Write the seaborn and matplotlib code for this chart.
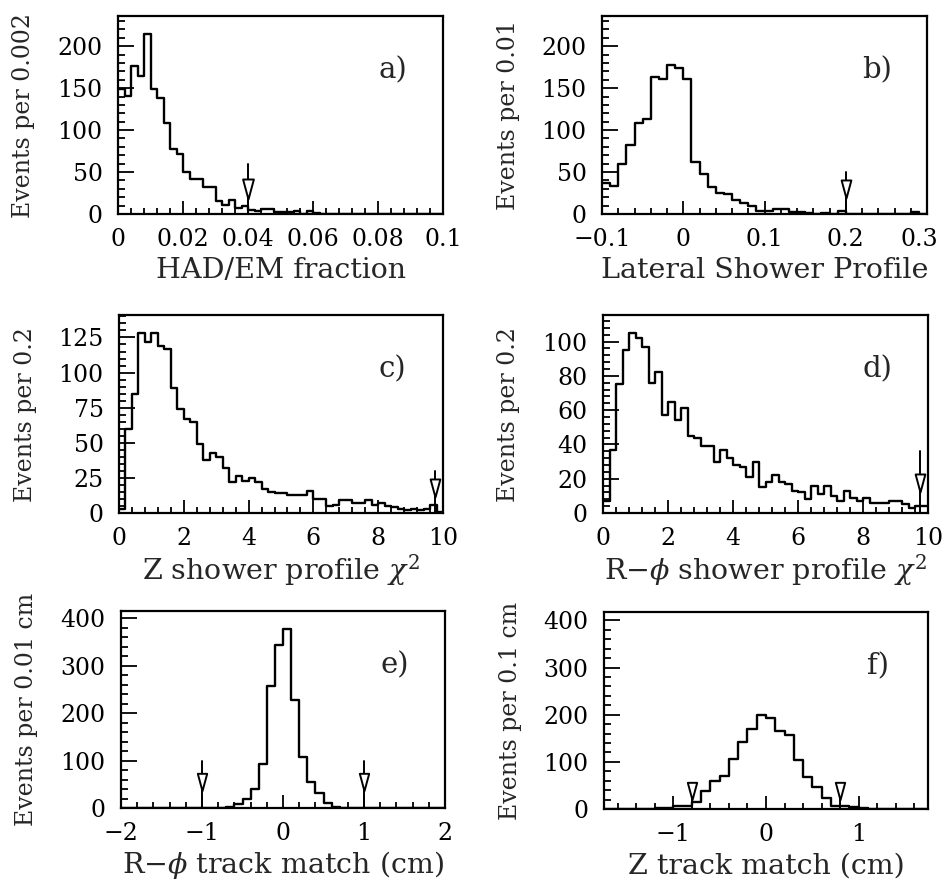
import numpy as np
import pandas as pd
import matplotlib
matplotlib.use("Agg")
import matplotlib.pyplot as plt
import seaborn as sns
from matplotlib.path import Path
from matplotlib.ticker import MultipleLocator, FuncFormatter
from matplotlib.transforms import ScaledTranslation

# ---------------- data ----------------
a_lo, a_width = 0.0, 0.002
a_counts = [149, 141, 177, 164, 215, 149, 138, 108, 78, 71, 50, 42, 42, 32, 32, 16, 11, 17, 7, 9,
            5, 3, 6, 6, 2, 2, 2, 4, 0, 4, 1, 0, 0, 0, 0, 0, 0, 0, 0, 0,
            0, 0, 0, 0, 0, 0, 0, 0, 0, 0]
a_cuts = [0.04]

b_lo, b_width = -0.1, 0.01
b_counts = [37, 33, 60, 82, 108, 113, 163, 161, 178, 174, 161, 62, 48, 32, 25, 24, 17, 13, 9, 4,
            3, 6, 6, 2, 2, 1, 0, 1, 0, 3, 0, 0, 0, 0, 0, 0, 0, 0, 2, 0]
b_cuts = [0.2]

c_lo, c_width = 0.0, 0.2
c_counts = [3, 60, 85, 128, 122, 128, 119, 117, 89, 74, 67, 65, 49, 38, 43, 40, 32, 22, 26, 23,
            25, 22, 17, 15, 14, 14, 13, 13, 13, 16, 10, 10, 5, 6, 9, 9, 7, 7, 9, 6,
            7, 5, 4, 3, 2, 3, 2, 3, 6, 1]
c_cuts = [9.75]

d_lo, d_width = 0.0, 0.2
d_counts = [7, 37, 75, 95, 105, 102, 97, 76, 82, 57, 65, 54, 61, 45, 44, 39, 39, 30, 37, 32,
            28, 27, 21, 30, 15, 18, 22, 18, 17, 13, 12, 8, 16, 11, 16, 10, 7, 13, 9, 7,
            9, 6, 6, 6, 7, 7, 5, 3, 4, 4]
d_cuts = [9.75]

e_lo, e_width = -2.0, 0.1
e_counts = [0, 0, 0, 0, 0, 0, 0, 0, 0, 0, 0, 0, 1, 3, 8, 20, 40, 93, 258, 343,
            377, 228, 107, 54, 31, 10, 3, 1, 0, 0, 0, 0, 0, 0, 0, 0, 0, 0, 0, 0]
e_cuts = [-1.0, 1.0]

f_lo, f_width = -1.8, 0.1
f_counts = [0, 0, 0, 0, 0, 1, 2, 2, 7, 7, 15, 38, 59, 70, 106, 143, 169, 200, 193, 166,
            158, 104, 68, 46, 24, 6, 6, 4, 2, 1, 0, 0, 0, 0, 0, 0]
f_cuts = [-0.8, 0.8]

xlabels = ["HAD/EM fraction", "Lateral Shower Profile", r"Z shower profile $\chi^2$",
           r"R$-\phi$ shower profile $\chi^2$", r"R$-\phi$ track match (cm)", "Z track match (cm)"]
ylabels = ["Events per 0.002", "Events per 0.01", "Events per 0.2", "Events per 0.2",
           "Events per 0.01 cm", "Events per 0.1 cm"]
tags = ["a)", "b)", "c)", "d)", "e)", "f)"]

# ---------------- style ----------------
sns.set_style("ticks")
plt.rcParams["font.family"] = ["DejaVu Serif"]
plt.rcParams["mathtext.fontset"] = "dejavuserif"
plt.rcParams["axes.unicode_minus"] = True

W, H = 943, 886
fig = plt.figure(figsize=(W / 100, H / 100), dpi=100)

boxes = [(118, 443, 16, 214), (602, 927, 16, 214),
         (119, 443, 315, 513), (603, 928, 315, 513),
         (121, 445, 611, 808), (604, 928, 612, 809)]

specs = [
    dict(lo=a_lo, w=a_width, c=a_counts, cuts=a_cuts, xlim=(0, 0.1), ylim=(0, 236),
         xmaj=0.02, xmin=0.004, ymaj=50, ymin=10, arrow=(60, 30, 14.4)),
    dict(lo=b_lo, w=b_width, c=b_counts, cuts=b_cuts, xlim=(-0.1, 0.3), ylim=(0, 236),
         xmaj=0.1, xmin=0.02, ymaj=50, ymin=10, arrow=(50, 30, 13)),
    dict(lo=c_lo, w=c_width, c=c_counts, cuts=c_cuts, xlim=(0, 10), ylim=(0, 141),
         xmaj=2, xmin=0.4, ymaj=25, ymin=5, arrow=(30, 17.5, 13)),
    dict(lo=d_lo, w=d_width, c=d_counts, cuts=d_cuts, xlim=(0, 10), ylim=(0, 115.5),
         xmaj=2, xmin=0.4, ymaj=20, ymin=4, arrow=(36, 17.5, 13)),
    dict(lo=e_lo, w=e_width, c=e_counts, cuts=e_cuts, xlim=(-2, 2), ylim=(0, 415),
         xmaj=1, xmin=0.2, ymaj=100, ymin=20, arrow=(100, 55, 12.5)),
    dict(lo=f_lo, w=f_width, c=f_counts, cuts=f_cuts, xlim=(-1.75, 1.75), ylim=(0, 418),
         xmaj=1, xmin=0.2, ymaj=100, ymin=20, arrow=(None, 38, 12.5)),
]

tri = Path([(-0.27, 0.5), (0.27, 0.5), (0.0, -0.5), (-0.27, 0.5)],
           [Path.MOVETO, Path.LINETO, Path.LINETO, Path.CLOSEPOLY])


def fmt(v, pos):
    v = round(v, 6)
    if v == 0:
        return "0"
    return "{:g}".format(v).replace("-", "\u2212")


axes = []
for i, (box, s) in enumerate(zip(boxes, specs)):
    l, r, t, b = box
    ax = fig.add_axes([l / W, 1 - b / H, (r - l) / W, (b - t) / H])
    axes.append(ax)
    counts = np.asarray(s["c"], dtype=float)
    n = len(counts)
    edges = s["lo"] + s["w"] * np.arange(n + 1)
    centers = 0.5 * (edges[:-1] + edges[1:])
    df = pd.DataFrame({"x": centers, "n": counts})
    sns.histplot(data=df, x="x", weights="n", bins=list(edges), element="step",
                 fill=False, color="black", linewidth=1.7, ax=ax)
    ax.set_xlim(*s["xlim"])
    ax.set_ylim(*s["ylim"])
    # cut arrows
    top, mid, ms = s["arrow"]
    for cx in s["cuts"]:
        y_end = top if top is not None else mid
        ax.plot([cx, cx], [0, y_end], color="black", lw=1.4, zorder=4)
        ax.plot([cx], [mid], marker=tri, markersize=ms, mfc="white", mec="black",
                mew=1.4, zorder=5, linestyle="none")
    # ticks
    ax.xaxis.set_major_locator(MultipleLocator(s["xmaj"]))
    ax.xaxis.set_minor_locator(MultipleLocator(s["xmin"]))
    ax.yaxis.set_major_locator(MultipleLocator(s["ymaj"]))
    ax.yaxis.set_minor_locator(MultipleLocator(s["ymin"]))
    ax.xaxis.set_major_formatter(FuncFormatter(fmt))
    ax.tick_params(which="both", direction="in", top=False, right=False, width=1.3,
                   colors="black", labelsize=17)
    ax.tick_params(axis="y", which="major", length=11.5, pad=11)
    ax.tick_params(axis="y", which="minor", length=5)
    ax.tick_params(axis="x", which="major", length=9.5, pad=10)
    ax.tick_params(axis="x", which="minor", length=4)
    for sp in ax.spines.values():
        sp.set_visible(True)
        sp.set_linewidth(1.6)
        sp.set_color("black")
    ax.set_facecolor("white")
    ax.set_xlabel(xlabels[i], fontsize=20.5)
    ax.set_ylabel(ylabels[i], fontsize=17)
    ax.xaxis.label.set_va("center")
    ax.yaxis.label.set_va("center")
    ax.xaxis.set_label_coords(0.5, -57 / (b - t))
    ax.yaxis.set_label_coords(-94 / (r - l), 0.5)
    ax.text(0.845, 0.725, tags[i], transform=ax.transAxes, fontsize=21,
            ha="center", va="center")
    ax.grid(False)

# nudge the right-most tick label of panel b so it stays inside the figure
fig.canvas.draw()
for lab in axes[1].get_xticklabels():
    if lab.get_text() == "0.3":
        lab.set_transform(lab.get_transform() + ScaledTranslation(-0.08, 0, fig.dpi_scale_trans))

fig.savefig("out.png", dpi=100, facecolor="white")
